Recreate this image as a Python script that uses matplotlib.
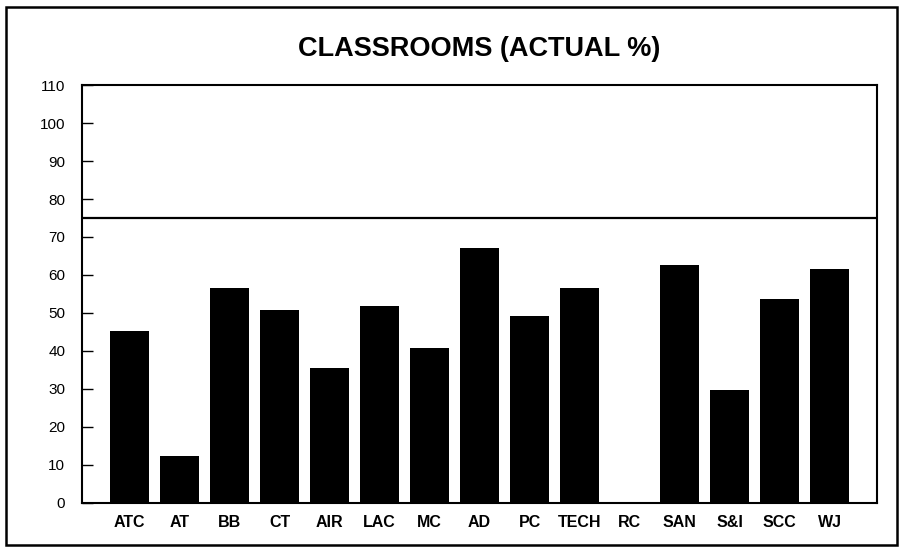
import matplotlib
matplotlib.use("Agg")
import matplotlib.pyplot as plt
from matplotlib.patches import Rectangle

categories = ["ATC", "AT", "BB", "CT", "AIR", "LAC", "MC", "AD", "PC", "TECH",
              "RC", "SAN", "S&I", "SCC", "WJ"]
values = [45.3, 12.4, 56.7, 50.8, 35.6, 51.8, 40.8, 67.0, 49.1, 56.6,
          0, 62.5, 29.7, 53.6, 61.6]
target = 75
yticks = list(range(0, 111, 10))

plt.rcParams["font.family"] = ["Liberation Sans", "DejaVu Sans"]

fig = plt.figure(figsize=(9.02, 5.52), dpi=100)
ax = fig.add_axes([0.0909, 0.0888, 0.8814, 0.7572])

x = range(len(categories))
ax.bar(x, values, width=0.78, color="black")
# target line
ax.axhline(target, color="black", linewidth=1.6)

ax.set_xlim(-0.95, 14.95)
ax.set_ylim(0, 110)
ax.set_yticks(yticks)
ax.set_yticklabels([str(t) for t in yticks], fontsize=11)
ax.set_xticks(list(x))
ax.set_xticklabels(categories, fontsize=11.5, fontweight="bold")
ax.tick_params(axis="y", direction="in", length=8, width=1, pad=12)
ax.tick_params(axis="x", length=0, pad=9)
for s in ax.spines.values():
    s.set_linewidth(1.5)

fig.text(0.531, 0.912, "CLASSROOMS (ACTUAL %)", ha="center", va="center",
         fontsize=19.5, fontweight="bold")

# frame round the whole picture
fig.patches.append(Rectangle((0.007, 0.013), 0.987, 0.975, transform=fig.transFigure,
                             fill=False, edgecolor="black", linewidth=1.8))

fig.savefig("out.png", dpi=100)
